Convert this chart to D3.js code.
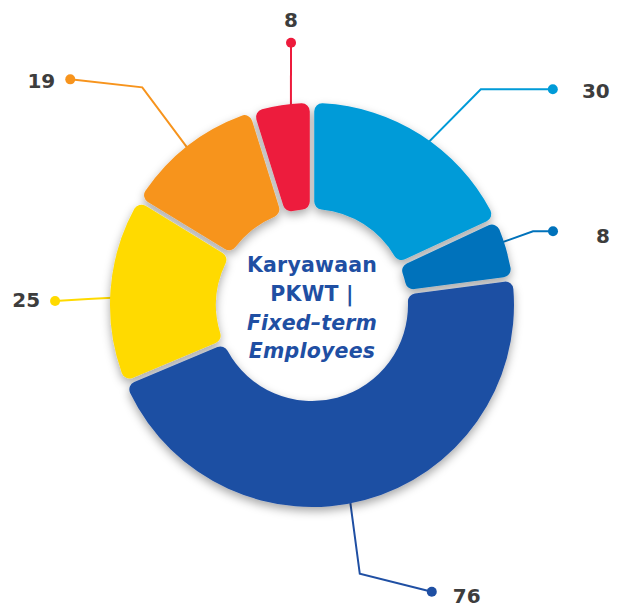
<!DOCTYPE html>
<html>
<head>
<meta charset="utf-8">
<script src="https://cdn.jsdelivr.net/npm/d3@7"></script>
<style>
  body { margin: 0; background: #fff; }
</style>
</head>
<body>
<script>
// ===============================
// DATA (clockwise from 12 o'clock)
// ===============================
const segments = ["s1", "s2", "s3", "s4", "s5", "s6"];
const values = [30, 8, 76, 25, 19, 8];
const colors = ["#009bd8", "#0072bb", "#1f4fa3", "#ffda00", "#f7941d", "#ed1b3c"];
const centerLines = ["Karyawaan", "PKWT |", "Fixed\u2013term", "Employees"];
const centerItalic = [false, false, true, true];

// leader layout: angle offsets (deg) from slice mid-angle, radii, leg, label offsets
const leaders = [
  { sa: -0.7, sr: 142, ea: 5.5,  er: 274, leg: 72,  drop: 0,  lx: 57,  ly: 2,   anchor: "end" },
  { sa: -1.8, sr: 180, ea: -2.2, er: 233, leg: 20,  drop: 0,  lx: 57,  ly: 4.5, anchor: "end" },
  { sa: 3.8,  sr: 180, ea: 5.1,  er: 273, leg: 72,  drop: 18, lx: 21,  ly: 4.5, anchor: "start" },
  { sa: -1.7, sr: 180, ea: -2.8, er: 224, leg: -33, drop: 2,  lx: -15, ly: -1,  anchor: "end" },
  { sa: -0.65,sr: 180, ea: 0,    er: 276, leg: -72, drop: -8, lx: -15, ly: 1.5, anchor: "end" },
  { sa: 2.3,  sr: 190, ea: 4.1,  er: 263, leg: 0,   drop: 0,  lx: 0,   ly: -23, anchor: "middle" }
];

// ===============================
// CONFIG
// ===============================
const width = 620;
const height = 610;
const cx = 312, cy = 305;
const outerR = 202, innerR = 96;

const svg = d3.select("body")
  .append("svg")
  .attr("width", width)
  .attr("height", height);

const defs = svg.append("defs");
defs.append("filter")
  .attr("id", "shadow")
  .attr("x", "-20%").attr("y", "-20%")
  .attr("width", "140%").attr("height", "140%")
  .append("feDropShadow")
  .attr("dx", 0)
  .attr("dy", 4)
  .attr("stdDeviation", 5)
  .attr("flood-color", "#000")
  .attr("flood-opacity", 0.35);

const g = svg.append("g").attr("transform", `translate(${cx},${cy})`);

const pie = d3.pie().sort(null).value(d => d.value);
const arcs = pie(values.map((v, i) => ({ key: segments[i], value: v, color: colors[i], lead: leaders[i] })));

const arc = d3.arc()
  .innerRadius(innerR)
  .outerRadius(outerR)
  .cornerRadius(8)
  .padAngle(0.02);

const rad = deg => deg * Math.PI / 180;
const polar = (a, r) => [Math.sin(a) * r, -Math.cos(a) * r];

// ===============================
// LEADER LINES (under the ring)
// ===============================
const leadG = g.append("g");
arcs.forEach(d => {
  const mid = (d.startAngle + d.endAngle) / 2;
  const L = d.data.lead;
  const p0 = polar(mid + rad(L.sa), L.sr);
  const p1 = polar(mid + rad(L.ea), L.er);
  const p2 = [p1[0] + L.leg, p1[1] + L.drop];

  leadG.append("polyline")
    .attr("points", [p0, p1, p2].map(p => p.join(",")).join(" "))
    .attr("fill", "none")
    .attr("stroke", d.data.color)
    .attr("stroke-width", 2);

  leadG.append("circle")
    .attr("cx", p2[0]).attr("cy", p2[1])
    .attr("r", 5)
    .attr("fill", d.data.color);

  leadG.append("text")
    .attr("x", p2[0] + L.lx)
    .attr("y", p2[1] + L.ly)
    .attr("dy", "0.35em")
    .attr("text-anchor", L.anchor)
    .attr("font-family", "DejaVu Sans, sans-serif")
    .attr("font-weight", "bold")
    .attr("font-size", "20px")
    .attr("fill", "#3d3d3d")
    .text(d.data.value);
});

// ===============================
// RING
// ===============================
g.append("g")
  .attr("filter", "url(#shadow)")
  .selectAll("path")
  .data(arcs)
  .join("path")
  .attr("d", arc)
  .attr("fill", d => d.data.color);

// ===============================
// CENTER TEXT
// ===============================
const baseY = [-33, -4, 25, 53];
g.append("g")
  .selectAll("text")
  .data(centerLines)
  .join("text")
  .attr("x", 0)
  .attr("y", (d, i) => baseY[i])
  .attr("text-anchor", "middle")
  .attr("font-family", "DejaVu Sans, sans-serif")
  .attr("font-weight", "bold")
  .attr("font-style", (d, i) => centerItalic[i] ? "italic" : "normal")
  .attr("font-size", "20.5px")
  .attr("letter-spacing", "0.2px")
  .attr("fill", "#1f4fa3")
  .text(d => d);
</script>
</body>
</html>
